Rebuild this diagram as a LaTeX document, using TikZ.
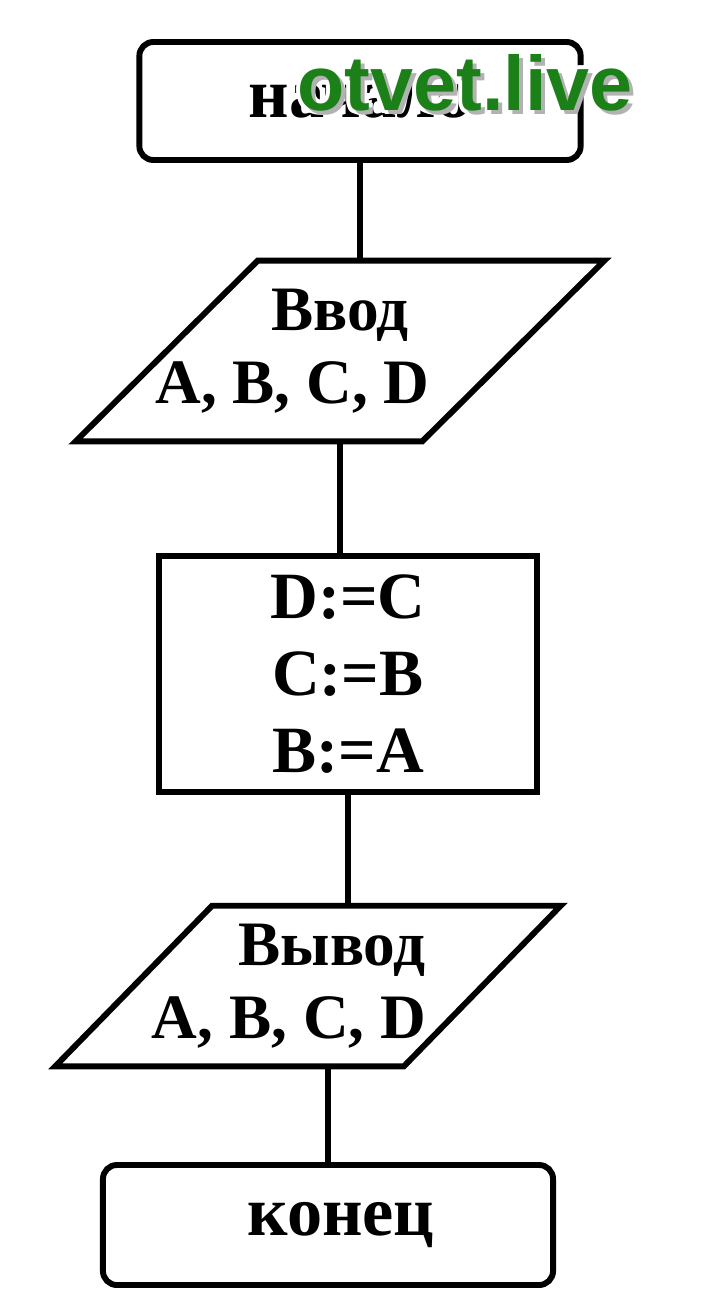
\documentclass[tikz,border=0pt]{standalone}
\usepackage{fontspec}
\setmainfont{Liberation Serif}
\newfontfamily\wmfont{Liberation Sans}
\usepackage{xcolor}
\usetikzlibrary{shapes.geometric, positioning}

\definecolor{wmgreen}{RGB}{28,128,24}

\begin{document}
\begin{tikzpicture}[x=0.025cm, y=-0.025cm,
  box/.style={draw, line width=4.2pt, fill=white, align=center, inner sep=0pt},
  term/.style={box, rectangle, rounded corners=0.35cm, minimum height=2.95cm,
    font=\bfseries\fontsize{50}{56}\selectfont},
  io/.style={rectangle, align=center, inner sep=0pt, font=\bfseries\fontsize{45}{52}\selectfont},
  proc/.style={box, rectangle, minimum width=9.43cm, minimum height=5.88cm,
    font=\bfseries\fontsize{47}{55}\selectfont},
  link/.style={line width=4.2pt},
  wmtext/.style={anchor=base, font=\wmfont\bfseries\fontsize{55}{55}\selectfont}]
  \fill[white] (0,0) rectangle (700,1302);
  \useasboundingbox (0,0) rectangle (700,1302);
  % blocks
  \node[term, minimum width=11.03cm] (start) at (360,101) {начало};
  \node[io, minimum width=8.65cm, minimum height=4.5cm] (in) at (340,351)
    {\makebox[0pt]{Ввод}\\\makebox[0pt]{A, B, C, D\hspace*{1.5em}}};
  \draw[link, line join=miter] ([xshift=2.275cm]in.north west) -- ([xshift=2.275cm]in.north east)
    -- ([xshift=-2.275cm]in.south east) -- ([xshift=-2.275cm]in.south west) -- cycle;
  \node[proc] (calc) at (348,674) {D:=C\\C:=B\\B:=A};
  \node[io, minimum width=8.7cm, minimum height=4.0cm] (out) at (308,986)
    {\makebox[0pt]{\hspace*{0.76em}Вывод}\\\makebox[0pt]{A, B, C, D\hspace*{0.6em}}};
  \draw[link, line join=miter] ([xshift=1.96cm]out.north west) -- ([xshift=1.96cm]out.north east)
    -- ([xshift=-1.96cm]out.south east) -- ([xshift=-1.96cm]out.south west) -- cycle;
  \node[term, minimum width=11.25cm, minimum height=3.0cm] (end) at (328,1225)
    {\hspace*{0.37em}конец};
  % connectors
  \draw[link] (start.south) -- (start.south |- in.north);
  \draw[link] (in.south) -- (in.south |- calc.north);
  \draw[link] (calc.south) -- (calc.south |- out.north);
  \draw[link] (end.north) -- (end.north |- out.south);
  % watermark (white halo, shadow, text)
  \foreach \dx/\dy [count=\i] in {-4/0, 4/0, 0/-4, 0/4, -3/-3, 3/3, -3/3, 3/-3}
    \node[wmtext, white] (wmhalo\i) at (465+\dx,110+\dy) {otvet.live};
  \node[wmtext, black!30] (wmshadow) at (469,114) {otvet.live};
  \node[wmtext, wmgreen] (wm) at (465,110) {otvet.live};
\end{tikzpicture}
\end{document}
